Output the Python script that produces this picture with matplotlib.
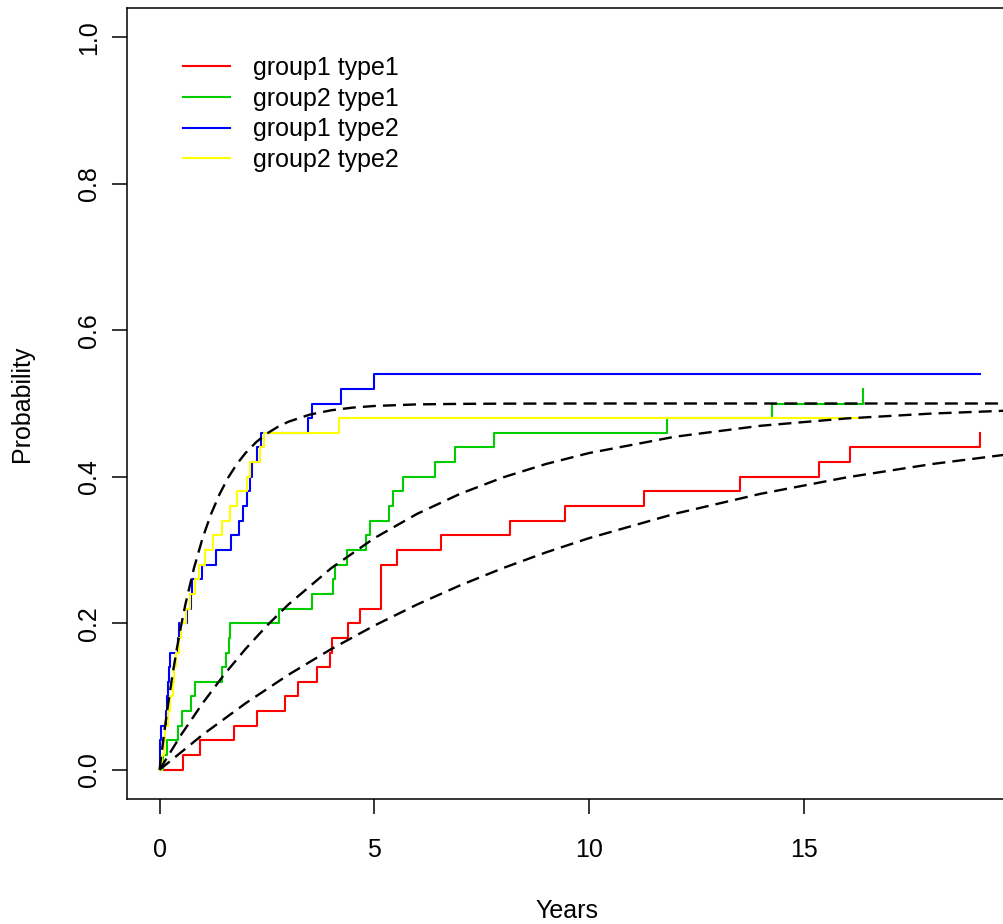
import matplotlib
matplotlib.use("Agg")
import matplotlib.pyplot as plt

plt.rcParams["font.family"] = ["Liberation Sans", "DejaVu Sans"]

# step curves (time of each jump, level after it)
t_red   = [0, 0.54, 0.94, 1.74, 2.28, 2.93, 3.22, 3.66, 3.96, 4.01, 4.38, 4.67, 5.16, 5.54,
           6.55, 8.17, 9.45, 11.28, 13.51, 15.36, 16.08, 19.11]
p_red   = [0, 0.02, 0.04, 0.06, 0.08, 0.10, 0.12, 0.14, 0.16, 0.18, 0.20, 0.22, 0.28, 0.30,
           0.32, 0.34, 0.36, 0.38, 0.40, 0.42, 0.44, 0.46]
t_green = [0, 0.08, 0.17, 0.42, 0.52, 0.72, 0.82, 1.45, 1.55, 1.62, 1.64, 2.77, 3.56, 4.03,
           4.08, 4.37, 4.81, 4.91, 5.35, 5.43, 5.68, 6.41, 6.89, 7.78, 11.81, 14.27, 16.38]
p_green = [0, 0.02, 0.04, 0.06, 0.08, 0.10, 0.12, 0.14, 0.16, 0.18, 0.20, 0.22, 0.24, 0.26,
           0.28, 0.30, 0.32, 0.34, 0.36, 0.38, 0.40, 0.42, 0.44, 0.46, 0.48, 0.50, 0.52]
t_blue  = [0, 0.005, 0.02, 0.04, 0.15, 0.17, 0.20, 0.22, 0.25, 0.42, 0.45, 0.63, 0.72, 0.75,
           0.98, 1.31, 1.66, 1.86, 1.94, 2.03, 2.11, 2.15, 2.27, 2.37, 3.46, 3.55, 4.22, 4.99, 19.11]
p_blue  = [0, 0.02, 0.04, 0.06, 0.08, 0.10, 0.12, 0.14, 0.16, 0.18, 0.20, 0.22, 0.24, 0.26,
           0.28, 0.30, 0.32, 0.34, 0.36, 0.38, 0.40, 0.42, 0.44, 0.46, 0.48, 0.50, 0.52, 0.54, 0.54]
t_yel   = [0, 0.05, 0.10, 0.13, 0.20, 0.25, 0.30, 0.33, 0.38, 0.45, 0.50, 0.62, 0.70, 0.83,
           0.91, 1.06, 1.25, 1.45, 1.64, 1.80, 2.03, 2.11, 2.33, 2.44, 4.19, 16.38]
p_yel   = [0, 0.02, 0.04, 0.06, 0.08, 0.10, 0.12, 0.14, 0.16, 0.18, 0.20, 0.22, 0.24, 0.26,
           0.28, 0.30, 0.32, 0.34, 0.36, 0.38, 0.40, 0.42, 0.44, 0.46, 0.48, 0.48]

# dashed reference curves
t_fast = [0, 0.1, 0.2, 0.3, 0.4, 0.5, 0.6, 0.8, 1.0, 1.2, 1.4, 1.6, 1.8, 2.0, 2.25, 2.5,
          2.75, 3.0, 3.5, 4.0, 4.5, 5, 6, 7, 8, 10, 20]
p_fast = [0, 0.0476, 0.0906, 0.1296, 0.1648, 0.1967, 0.2256, 0.2753, 0.3161, 0.3494, 0.3767,
          0.3991, 0.4174, 0.4323, 0.4473, 0.459, 0.468, 0.4751, 0.4849, 0.4908, 0.4944,
          0.4966, 0.4988, 0.4995, 0.4998, 0.5, 0.5]
t_mid  = [0, 0.5, 1, 1.5, 2, 2.5, 3, 4, 5, 6, 7, 8, 9, 10, 12, 14, 16, 18, 20]
p_mid  = [0, 0.0476, 0.0906, 0.1296, 0.1648, 0.1967, 0.2256, 0.2753, 0.3161, 0.3494, 0.3767,
          0.3991, 0.4174, 0.4323, 0.4546, 0.4696, 0.4796, 0.4863, 0.4908]
t_slow = [0, 1, 2, 3, 4, 5, 6, 7, 8, 9, 10, 12, 14, 16, 18, 20]
p_slow = [0, 0.0476, 0.0906, 0.1296, 0.1648, 0.1967, 0.2256, 0.2517, 0.2753, 0.2967, 0.3161,
          0.3494, 0.3767, 0.3991, 0.4174, 0.4323]

labels = ["group1 type1", "group2 type1", "group1 type2", "group2 type2"]
colors = ["#FF0000", "#00CD00", "#0000FF", "#FFFF00"]
FS = 18

fig = plt.figure(figsize=(10.04, 9.24), dpi=100)
ax = fig.add_axes([127/1004, 125/924, 880/1004, 791/924])

for (t, p), lab, c in zip([(t_red, p_red), (t_green, p_green), (t_blue, p_blue), (t_yel, p_yel)],
                          labels, colors):
    ax.step(t, p, where="post", color=c, lw=1.5, label=lab)

for t, p in [(t_fast, p_fast), (t_mid, p_mid), (t_slow, p_slow)]:
    ax.plot(t, p, color="black", lw=1.7, ls=(0, (5.5, 3)))

ax.set_xlim(-0.76, 19.74)
ax.set_ylim(-0.04, 1.04)
ax.set_xticks([0, 5, 10, 15])
ax.set_yticks([0, 0.2, 0.4, 0.6, 0.8, 1.0])
ax.set_yticklabels(["0.0", "0.2", "0.4", "0.6", "0.8", "1.0"], rotation=90, va="center")
ax.tick_params(labelsize=FS, length=11, width=1.1)
ax.tick_params(axis="x", pad=17)
ax.tick_params(axis="y", pad=7.5)
for s in ax.spines.values():
    s.set_linewidth(1.1)
ax.set_xlabel("Years", fontsize=FS, labelpad=27)
ax.set_ylabel("Probability", fontsize=FS, labelpad=31)

ax.legend(loc="upper left", bbox_to_anchor=(0.052, 0.952), frameon=False, fontsize=FS,
          handlelength=1.88, handletextpad=0.92, labelspacing=0.27, borderaxespad=0)

fig.savefig("out.png", dpi=100)
